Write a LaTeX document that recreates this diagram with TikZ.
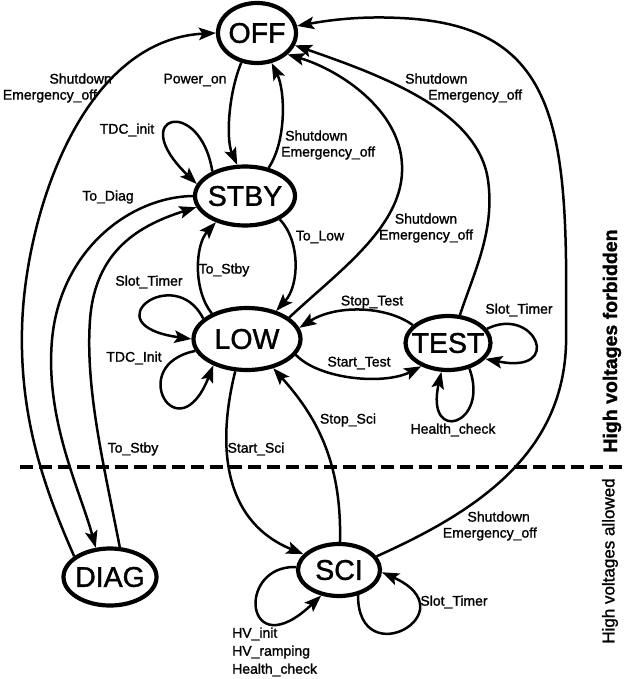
\documentclass[tikz,border=0pt]{standalone}
\usepackage{fontspec}
\setmainfont{Liberation Sans}[FakeBold=1.3]
\usetikzlibrary{shapes.geometric,arrows.meta}
\begin{document}
\begin{tikzpicture}[x=1pt,y=1pt,
  state/.style={ellipse,draw,line width=4.2pt,inner sep=0pt,font=\fontsize{28.5}{30}\selectfont},
  edge/.style={line width=2.5pt,-{Stealth[length=17pt,width=12.5pt,inset=3.5pt]}},
  lbl/.style={inner sep=0pt,font=\fontsize{14}{16}\selectfont},
  divider/.style={line width=3.8pt,dash pattern=on 13pt off 6pt},
]
\useasboundingbox (0,0) rectangle (626,-679);
% states
\node[state,minimum width=78pt,minimum height=60pt] (OFF) at (257,-33) {\makebox[0pt]{OFF}};
\node[state,minimum width=100pt,minimum height=59pt] (STBY) at (245,-196) {\makebox[0pt]{STBY}};
\node[state,minimum width=107pt,minimum height=62pt] (LOW) at (247,-339) {\makebox[0pt]{LOW}};
\node[state,minimum width=85pt,minimum height=54pt] (TEST) at (448,-343) {\makebox[0pt]{TEST}};
\node[state,minimum width=93pt,minimum height=57pt] (DIAG) at (110,-577) {\makebox[0pt]{DIAG}};
\node[state,minimum width=82pt,minimum height=52pt] (SCI) at (339,-570) {\makebox[0pt]{SCI}};
% divider
\coordinate (dl) at (20,-467);
\coordinate (dr) at (626,-467);
\draw[divider] (dl) -- (dr);
% transitions
\draw[edge] (OFF.242) .. controls (228,-95) and (226,-140) .. (STBY.104);
\draw[edge] (STBY.50) .. controls (287,-140) and (285,-90) .. (OFF.296);
\draw[edge] (STBY.143) .. controls (200,-95) and (125,-115) .. (STBY.166);
\draw[edge] (DIAG.150) .. controls (45,-490) and (20,-420) .. (22,-330) .. controls (24,-220) and (80,-40) .. (OFF.180);
\draw[edge] (STBY.180) .. controls (130,-197) and (60,-250) .. (52,-340) .. controls (45,-420) and (80,-490) .. (DIAG.116);
\draw[edge] (DIAG.72) .. controls (105,-470) and (85,-390) .. (90,-320) .. controls (95,-250) and (140,-225) .. (STBY.193);
\draw[edge] (STBY.326) .. controls (300,-240) and (300,-285) .. (LOW.44);
\draw[edge] (LOW.144) .. controls (193,-290) and (195,-245) .. (STBY.222);
\draw[edge] (LOW.155) .. controls (175,-262) and (90,-325) .. (LOW.180);
\draw[edge] (LOW.193) .. controls (125,-365) and (178,-455) .. (LOW.218);
\draw[edge] (LOW.342) .. controls (320,-380) and (385,-385) .. (TEST.221);
\draw[edge] (TEST.153) .. controls (385,-305) and (335,-305) .. (LOW.12);
\draw[edge] (TEST.20) .. controls (535,-305) and (565,-375) .. (TEST.337);
\draw[edge] (TEST.310) .. controls (490,-425) and (425,-445) .. (TEST.257);
\draw[edge] (TEST.67) .. controls (475,-270) and (495,-230) .. (488,-180) .. controls (478,-110) and (380,-75) .. (OFF.342);
\draw[edge] (LOW.27) .. controls (340,-270) and (405,-225) .. (402,-165) .. controls (400,-110) and (340,-70) .. (OFF.325);
\draw[edge] (SCI.20) .. controls (480,-510) and (570,-450) .. (566,-330) .. controls (568,-130) and (560,-25) .. (400,-18) .. controls (360,-16) and (330,-20) .. (OFF.10);
\draw[edge] (LOW.250) .. controls (218,-440) and (220,-520) .. (SCI.156);
\draw[edge] (SCI.88) .. controls (342,-460) and (315,-415) .. (LOW.312);
\draw[edge] (SCI.176) .. controls (235,-565) and (245,-668) .. (SCI.235);
\draw[edge] (SCI.307) .. controls (358,-675) and (470,-612) .. (SCI.357);
% labels
\node[lbl] (lpower) at (195,-80) {Power\_on};
\node[lbl,anchor=west,align=left] (lsd1) at (281,-145) {\hspace*{4pt}Shutdown\\Emergency\_off};
\node[lbl] (ltdc1) at (127,-130) {TDC\_init};
\node[lbl,anchor=east,align=right] (lsd2) at (112,-88) {Shutdown\\Emergency\_off\hspace*{15pt}};
\node[lbl] (ldiag) at (108,-197) {To\_Diag};
\node[lbl] (llow) at (320,-237) {To\_Low};
\node[lbl] (lstby1) at (224,-270) {To\_Stby};
\node[lbl] (lslot1) at (149,-282) {Slot\_Timer};
\node[lbl] (ltdc2) at (134,-358) {TDC\_Init};
\node[lbl] (lstopt) at (372,-302) {Stop\_Test};
\node[lbl] (lstartt) at (359,-363) {Start\_Test};
\node[lbl] (lslot2) at (519,-310) {Slot\_Timer};
\node[lbl] (lhealth) at (453,-430) {Health\_check};
\node[lbl,anchor=west,align=left] (lsd3) at (405,-88) {Shutdown\\\hspace*{23pt}Emergency\_off};
\node[lbl,align=center] (lsd4) at (426,-228) {Shutdown\\Emergency\_off};
\node[lbl] (lstby2) at (133,-449) {To\_Stby};
\node[lbl] (lstarts) at (256,-449) {Start\_Sci};
\node[lbl] (lstops) at (348,-420) {Stop\_Sci};
\node[lbl,anchor=east,align=right] (lsd5) at (537,-526) {Shutdown\hspace*{7pt}\\Emergency\_off};
\node[lbl,anchor=west,align=left,font=\fontsize{14}{18}\selectfont] (lhv) at (232,-652) {HV\_init\\HV\_ramping\\Health\_check};
\node[lbl] (lslot3) at (454,-602) {Slot\_Timer};
% zone captions
\node[rotate=90,inner sep=0pt,font=\bfseries\fontsize{19.5}{22}\selectfont] (hvf) at (612,-341) {High voltages forbidden};
\node[rotate=90,inner sep=0pt,font=\fontsize{17}{20}\selectfont] (hva) at (610,-561) {High voltages allowed};
\end{tikzpicture}
\end{document}
